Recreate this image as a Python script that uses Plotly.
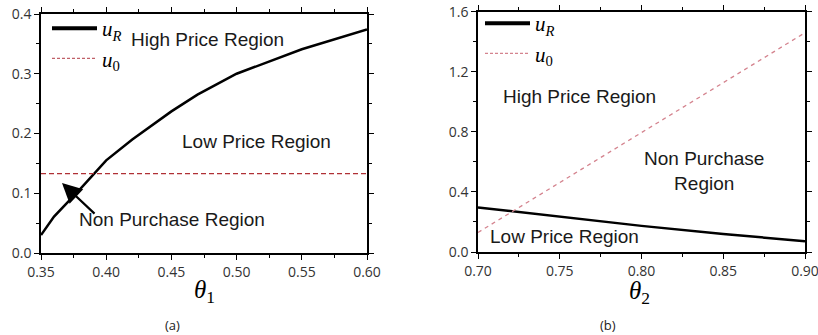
import plotly.graph_objects as go

# ---- data ----
theta1 = [0.35, 0.36, 0.38, 0.40, 0.42, 0.45, 0.47, 0.50, 0.55, 0.60]
uR_a = [0.030, 0.061, 0.107, 0.155, 0.190, 0.237, 0.265, 0.300, 0.341, 0.374]
theta1_u0 = [0.35, 0.60]
u0_a = [0.133, 0.133]

theta2 = [0.70, 0.75, 0.80, 0.85, 0.90]
uR_b = [0.297, 0.234, 0.174, 0.120, 0.072]
theta2_u0 = [0.70, 0.90]
u0_b = [0.130, 1.460]

xt_a = [0.35, 0.40, 0.45, 0.50, 0.55, 0.60]
yt_a = [0.0, 0.1, 0.2, 0.3, 0.4]
xt_b = [0.70, 0.75, 0.80, 0.85, 0.90]
yt_b = [0.0, 0.4, 0.8, 1.2, 1.6]

W, H = 818, 335


def px(x):
    return x / W


def py(y):
    return 1 - y / H


SERIF = "Liberation Serif"
SANS = "Liberation Sans"
TICKF = dict(family="Open Sans", size=14, color="#333333")

fig = go.Figure()

# panel (a)
fig.add_trace(go.Scatter(x=theta1, y=uR_a, mode="lines", line=dict(color="black", width=2.5),
                         showlegend=False, xaxis="x", yaxis="y"))
fig.add_trace(go.Scatter(x=theta1_u0, y=u0_a, mode="lines",
                         line=dict(color="#b03035", width=1.3, dash="5px,3px"),
                         showlegend=False, xaxis="x", yaxis="y"))
fig.add_trace(go.Scatter(x=[None], y=[None], mode="lines", line=dict(color="black", width=4),
                         name="<i>u</i><sub><i>R</i></sub>", legend="legend", showlegend=True,
                         xaxis="x", yaxis="y"))
fig.add_trace(go.Scatter(x=[None], y=[None], mode="lines",
                         line=dict(color="#c06068", width=1.3, dash="3px,2px"),
                         name="<i>u</i><sub>0</sub>", legend="legend", showlegend=True,
                         xaxis="x", yaxis="y"))

# panel (b)
fig.add_trace(go.Scatter(x=theta2, y=uR_b, mode="lines", line=dict(color="black", width=2.5),
                         showlegend=False, xaxis="x2", yaxis="y2"))
fig.add_trace(go.Scatter(x=theta2_u0, y=u0_b, mode="lines",
                         line=dict(color="#d4838e", width=1.3, dash="4px,4px"),
                         showlegend=False, xaxis="x2", yaxis="y2"))
fig.add_trace(go.Scatter(x=[None], y=[None], mode="lines", line=dict(color="black", width=4),
                         name="<i>u</i><sub><i>R</i></sub>", legend="legend2", showlegend=True,
                         xaxis="x2", yaxis="y2"))
fig.add_trace(go.Scatter(x=[None], y=[None], mode="lines",
                         line=dict(color="#d4838e", width=1.3, dash="3px,2px"),
                         name="<i>u</i><sub>0</sub>", legend="legend2", showlegend=True,
                         xaxis="x2", yaxis="y2"))


def ax(domain, rng, tickvals, fmt, minor_dtick):
    return dict(domain=domain, range=rng, tickvals=tickvals, tickformat=fmt,
                ticks="outside", ticklen=5, tickwidth=1.2, tickcolor="black",
                showline=True, linecolor="black", linewidth=1.5, mirror="allticks",
                showgrid=False, zeroline=False, tickfont=TICKF, automargin=False,
                ticklabeloverflow="allow",
                minor=dict(dtick=minor_dtick, ticks="outside", ticklen=3, tickwidth=1,
                           tickcolor="black", showgrid=False))


xa = ax([px(41), px(367)], [0.35, 0.60], xt_a, ".2f", 0.025)
xa["anchor"] = "y"
ya = ax([py(253), py(14)], [0, 0.4], yt_a, ".1f", 0.05)
ya["anchor"] = "x"
xb = ax([px(478), px(805)], [0.70, 0.90], xt_b, ".2f", 0.025)
xb["anchor"] = "y2"
yb = ax([py(252), py(11.7)], [0, 1.6], yt_b, ".1f", 0.2)
yb["anchor"] = "x2"

legfont = dict(family=SERIF, size=21, color="black")
fig.update_layout(
    width=W, height=H, margin=dict(l=0, r=0, t=0, b=0, autoexpand=False),
    paper_bgcolor="white", plot_bgcolor="white",
    xaxis=xa, yaxis=ya, xaxis2=xb, yaxis2=yb,
    legend=dict(x=px(47), y=py(8), xanchor="left", yanchor="top", font=legfont,
                bgcolor="rgba(0,0,0,0)", itemwidth=45, tracegroupgap=0),
    legend2=dict(x=px(480), y=py(3), xanchor="left", yanchor="top", font=legfont,
                 bgcolor="rgba(0,0,0,0)", itemwidth=45, tracegroupgap=0),
    showlegend=True,
)

txt = dict(family=SANS, size=19, color="#1a1a1a")
titf = dict(family=SERIF, size=25, color="black")
capf = dict(family="Open Sans", size=13, color="#222222")
ann = [
    dict(text="High Price Region", x=0.4777, y=0.3565, xref="x", yref="y", showarrow=False, font=txt),
    dict(text="Low Price Region", x=0.5149, y=0.1858, xref="x", yref="y", showarrow=False, font=txt),
    dict(text="Non Purchase Region", x=0.4505, y=0.0569, xref="x", yref="y", showarrow=False, font=txt),
    dict(text="", x=0.3661, y=0.1172, ax=0.3922, ay=0.0636, xref="x", yref="y", axref="x", ayref="y",
         showarrow=True, arrowhead=2, arrowsize=1.8, arrowwidth=2.2, arrowcolor="black"),
    dict(text="High Price Region", x=0.7618, y=1.035, xref="x2", yref="y2", showarrow=False, font=txt),
    dict(text="Non Purchase<br>Region", x=0.8382, y=0.54, xref="x2", yref="y2", showarrow=False, font=txt),
    dict(text="Low Price Region", x=0.7526, y=0.10, xref="x2", yref="y2", showarrow=False, font=txt),
    # axis titles
    dict(text="<i>θ</i><sub>1</sub>", x=px(204), y=py(291), xref="paper", yref="paper",
         xanchor="center", yanchor="middle", showarrow=False, font=titf),
    dict(text="<i>θ</i><sub>2</sub>", x=px(639), y=py(292), xref="paper", yref="paper",
         xanchor="center", yanchor="middle", showarrow=False, font=titf),
    # panel captions
    dict(text="(a)", x=px(172), y=py(325), xref="paper", yref="paper", xanchor="center",
         yanchor="middle", showarrow=False, font=capf),
    dict(text="(b)", x=px(608), y=py(325), xref="paper", yref="paper", xanchor="center",
         yanchor="middle", showarrow=False, font=capf),
]
fig.update_layout(annotations=ann)

# remove the page's default 8px body margin so the figure sits at the window origin
fig.write_html("out.html", config={"displayModeBar": False},
               post_script="document.body.style.margin='0';")
